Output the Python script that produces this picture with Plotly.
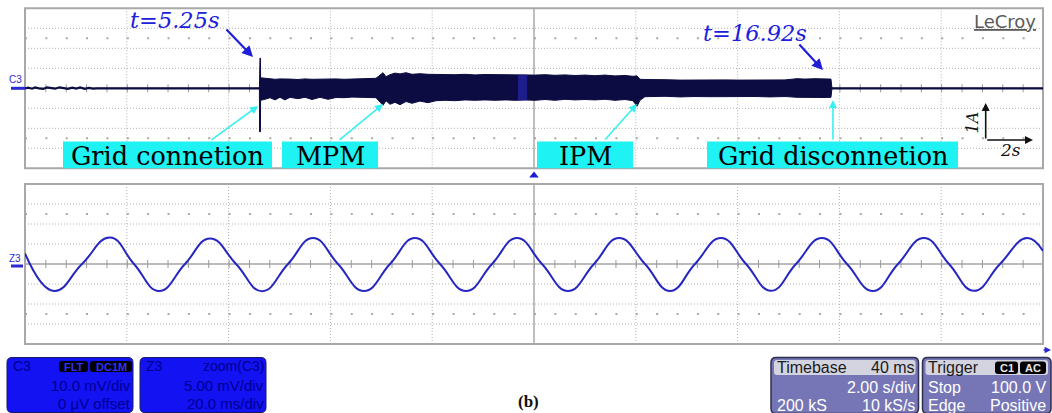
import plotly.graph_objects as go

W, H = 1052, 413

# ---------------- data ----------------
# Upper channel C3: grid current, time in s, amplitude in screen divisions
t_connect = 5.25
t_mpm = 7.76
t_ipm = 12.94
t_disconnect = 16.92
top_range = [0.455, 21.226]

baseline_t = [0.455, 0.52, 0.60, 0.66, 0.74, 0.83, 0.90, 0.98, 1.07, 1.16, 1.24, 1.33, 1.42, 1.50,
              1.58, 1.67, 1.76, 1.84, 1.92, 3.00, 5.21, 16.92, 18.00, 21.226]
baseline_v = [0.00, 0.03, -0.02, 0.04, 0.00, -0.03, 0.04, 0.01, -0.02, 0.05, 0.00, -0.03, 0.03,
              -0.01, 0.04, -0.03, 0.02, -0.02, 0.00, 0.00, 0.00, 0.00, 0.00, 0.00]

band_t = [5.238, 5.241, 5.250, 5.259, 5.262, 5.291, 5.352, 5.454, 5.556, 5.658, 5.760, 5.862, 6.025,
          6.168, 6.311, 6.474, 6.637, 6.801, 6.964, 7.127, 7.290, 7.454, 7.617, 7.760, 7.821, 7.902,
          8.004, 8.107, 8.229, 8.351, 8.515, 8.678, 8.841, 9.025, 9.229, 9.433, 9.637, 9.841, 10.045,
          10.249, 10.453, 10.657, 10.861, 11.065, 11.269, 11.473, 11.677, 11.881, 12.085, 12.289,
          12.493, 12.697, 12.860, 12.942, 13.003, 13.105, 13.310, 13.514, 13.820, 14.126, 14.432,
          14.738, 15.044, 15.350, 15.656, 15.962, 16.207, 16.370, 16.574, 16.778, 16.900, 16.920]
band_hi = [0.00, 1.50, 1.52, 1.50, 0.52, 0.52, 0.50, 0.47, 0.45, 0.47, 0.45, 0.46, 0.44,
           0.47, 0.45, 0.46, 0.44, 0.47, 0.45, 0.47, 0.46, 0.48, 0.50, 0.78, 0.58, 0.68,
           0.76, 0.72, 0.78, 0.70, 0.73, 0.70, 0.69, 0.71, 0.68, 0.70, 0.67, 0.69, 0.68,
           0.70, 0.67, 0.68, 0.66, 0.68, 0.65, 0.67, 0.64, 0.66, 0.63, 0.66,
           0.62, 0.64, 0.60, 0.62, 0.45, 0.44, 0.42, 0.43, 0.41, 0.42, 0.40,
           0.42, 0.41, 0.42, 0.40, 0.42, 0.48, 0.46, 0.48, 0.47, 0.46, 0.00]
band_lo = [0.00, -2.17, -2.18, -2.17, -0.60, -0.60, -0.55, -0.47, -0.58, -0.45, -0.58, -0.45, -0.52,
           -0.45, -0.56, -0.45, -0.55, -0.46, -0.47, -0.44, -0.46, -0.45, -0.47, -0.85, -0.62, -0.80,
           -0.70, -0.82, -0.66, -0.75, -0.64, -0.72, -0.62, -0.60, -0.62, -0.58, -0.60, -0.58, -0.60,
           -0.58, -0.60, -0.58, -0.60, -0.56, -0.60, -0.55, -0.58, -0.56, -0.58, -0.55,
           -0.60, -0.56, -0.62, -0.90, -0.60, -0.42, -0.42, -0.40, -0.43, -0.41, -0.42,
           -0.40, -0.42, -0.41, -0.43, -0.41, -0.45, -0.47, -0.45, -0.46, -0.45, 0.00]

strip_t = [10.514, 10.698]
strip_hi = [0.66, 0.66]
strip_lo = [-0.59, -0.59]

# Lower channel Z3: zoomed grid voltage, time in ms, amplitude in divisions
wave_t = [0.0, 5.70, 11.20, 16.70, 21.41, 26.33, 31.43, 36.35, 41.46, 46.56, 51.67, 56.58, 61.49,
          66.60, 71.71, 76.62, 81.53, 86.64, 91.75, 96.66, 101.57, 106.68, 111.79, 116.70, 121.81,
          126.72, 131.63, 136.74, 141.65, 146.56, 151.47, 156.58, 161.49, 166.60, 171.51, 176.62,
          181.53, 186.44, 191.55, 196.85, 200.0]
wave_v = [0.53, -1.35, 0.0, 1.32, 0.0, -1.35, 0.0, 1.28, 0.0, -1.36, 0.0, 1.30, 0.0,
          -1.35, 0.0, 1.30, 0.0, -1.35, 0.0, 1.30, 0.0, -1.35, 0.0, 1.30, 0.0,
          -1.35, 0.0, 1.30, 0.0, -1.34, 0.0, 1.30, 0.0, -1.35, 0.0, 1.30,
          0.0, -1.34, 0.0, 1.30, 0.65]

# ---------------- layout helpers (pixel -> paper) ----------------
def px(x):
    return x / W


def py(y):
    return 1 - y / H


def line_px(x0, y0, x1, y1, color, width, dash="solid", layer="below"):
    return dict(type="line", xref="paper", yref="paper", x0=px(x0), y0=py(y0), x1=px(x1), y1=py(y1),
                line=dict(color=color, width=width, dash=dash), layer=layer)


def rect_px(x0, y0, x1, y1, fill, layer="above"):
    return dict(type="rect", xref="paper", yref="paper", x0=px(x0), y0=py(y0), x1=px(x1), y1=py(y1),
                fillcolor=fill, line=dict(width=0), layer=layer)


def rrect_px(x0, y0, x1, y1, r, fill, edge=None, ew=0):
    pts = [("M", x0 + r, y0), ("L", x1 - r, y0), ("Q", x1, y0, x1, y0 + r), ("L", x1, y1 - r),
           ("Q", x1, y1, x1 - r, y1), ("L", x0 + r, y1), ("Q", x0, y1, x0, y1 - r),
           ("L", x0, y0 + r), ("Q", x0, y0, x0 + r, y0)]
    path = ""
    for p in pts:
        if p[0] == "Q":
            path += f"Q{px(p[1]):.5f},{py(p[2]):.5f} {px(p[3]):.5f},{py(p[4]):.5f} "
        else:
            path += f"{p[0]}{px(p[1]):.5f},{py(p[2]):.5f} "
    path += "Z"
    return dict(type="path", xref="paper", yref="paper", path=path, fillcolor=fill,
                line=dict(color=edge or fill, width=ew), layer="above")


def text_px(x, y, s, size, color, family="Liberation Sans", xa="center", ya="middle", **kw):
    return dict(x=px(x), y=py(y), xref="paper", yref="paper", text=s, showarrow=False,
                xanchor=xa, yanchor=ya, font=dict(size=size, color=color, family=family), **kw)


L, R = 25, 1043
panels = {"top": (8.3, 168.3), "bot": (184.0, 344.0)}

shapes = []
annotations = []

# ---------------- scope graticule ----------------
GRID = "#b2b2b2"
for name, (T, B) in panels.items():
    dw = (R - L) / 10
    dh = (B - T) / 8
    for i in range(1, 10):
        x = L + i * dw
        if i == 5:
            shapes.append(line_px(x, T, x, B, "#a4a4a4", 1.4))
        else:
            shapes.append(line_px(x, T, x, B, GRID, 1, "1px,2px"))
    for j in range(1, 8):
        y = T + j * dh
        if j == 4:
            shapes.append(line_px(L, y, R, y, "#a4a4a4", 1.4))
        else:
            shapes.append(line_px(L, y, R, y, GRID, 1, "1px,2px"))
    # minor dots and centre-axis ticks every 1/5 division
    step = dw / 5
    for yy in (T + 1.5 * dh, T + 6.5 * dh):
        shapes.append(line_px(L, yy, R, yy, "#a8a8a8", 2, f"2px,{step - 2:.2f}px"))
    shapes.append(line_px(L, T + 4 * dh, R, T + 4 * dh, "#9a9a9a", 8, f"1px,{step - 1:.2f}px"))
    shapes.append(dict(type="rect", xref="paper", yref="paper", x0=px(L), x1=px(R), y0=py(B), y1=py(T),
                       line=dict(color="#a8a8a8", width=2), fillcolor="rgba(0,0,0,0)", layer="below"))

# ---------------- traces ----------------
NAVY = "#0c0c42"
fig = go.Figure()
fig.add_trace(go.Scatter(x=baseline_t, y=baseline_v, mode="lines", xaxis="x", yaxis="y",
                         line=dict(color=NAVY, width=2.2), hoverinfo="skip"))
fig.add_trace(go.Scatter(x=band_t + band_t[::-1], y=band_hi + band_lo[::-1], mode="lines",
                         fill="toself", fillcolor=NAVY, xaxis="x", yaxis="y",
                         line=dict(color=NAVY, width=1), hoverinfo="skip"))
fig.add_trace(go.Scatter(x=strip_t + strip_t[::-1], y=strip_hi + strip_lo[::-1], mode="lines",
                         fill="toself", fillcolor="#1d1d8c", xaxis="x", yaxis="y",
                         line=dict(color="#1d1d8c", width=0.5), hoverinfo="skip"))
fig.add_trace(go.Scatter(x=wave_t, y=wave_v, mode="lines", xaxis="x2", yaxis="y2",
                         line=dict(color="#2626c0", width=2, shape="spline", smoothing=1.3),
                         hoverinfo="skip"))

# ---------------- channel markers ----------------
shapes.append(line_px(11, 88.3, 25, 88.3, "#2a2ad0", 3, layer="above"))
annotations.append(text_px(15, 79, "C3", 10, "#2a2ad0"))
shapes.append(line_px(11, 266, 23, 266, "#2a2ad0", 3, layer="above"))
annotations.append(text_px(15, 258, "Z3", 10, "#2a2ad0"))
shapes.append(dict(type="path", xref="paper", yref="paper",
                   path=f"M{px(534):.5f},{py(171.5):.5f} L{px(538.8):.5f},{py(177.5):.5f} "
                        f"L{px(529.2):.5f},{py(177.5):.5f} Z",
                   fillcolor="#1c1cd0", line=dict(width=0), layer="above"))
annotations.append(dict(x=px(1051), y=py(350), xref="paper", yref="paper", text="", showarrow=True,
                        ax=-9, ay=0, arrowhead=2, arrowsize=0.8, arrowwidth=1.6, arrowcolor="#2a2ad0"))

# ---------------- operating-mode labels ----------------
CYAN = "#1ff2f2"
SERIF = "DejaVu Serif"
for (x0, x1, label) in [(63, 272, "Grid connetion"), (282, 378, "MPM"),
                        (537, 633, "IPM"), (707, 958, "Grid disconnetion")]:
    shapes.append(rect_px(x0, 141.5, x1, 168.3, CYAN))
    annotations.append(text_px((x0 + x1) / 2, 155.5, label, 25.5, "#000000", family=SERIF))

# arrows from the labels to the events (cyan) and the time stamps (blue)
def event_arrow(t, dx, dy_head, ax, ay, color, width):
    return dict(x=t, y=0, xref="x", yref="y", text="", showarrow=True, xshift=dx, yshift=dy_head,
                ax=ax, ay=ay, arrowhead=2, arrowsize=1.0, arrowwidth=width, arrowcolor=color,
                standoff=0)

annotations += [
    event_arrow(t_connect, -2, -17.7, -48, 35, "#3cf0f0", 1.6),
    event_arrow(t_mpm, 0, -15.7, -45, 37, "#3cf0f0", 1.6),
    event_arrow(t_ipm, 0, -15.7, -33, 37, "#3cf0f0", 1.6),
    event_arrow(t_disconnect, 1, -11.7, 0, 41, "#3cf0f0", 1.6),
    event_arrow(t_connect, -7, 31.3, -28, -29, "#1f1fd8", 2.2),
    event_arrow(t_disconnect, -9, 18.3, -25, -27, "#1f1fd8", 2.2),
]
BLUE_TXT = "#2020dc"
annotations.append(text_px(175, 20.5, f"<i>t={t_connect}s</i>", 22.5, BLUE_TXT, family=SERIF))
annotations.append(text_px(755, 33, f"<i>t={t_disconnect}s</i>", 22.5, BLUE_TXT, family=SERIF))

# brand + scale bar
annotations.append(text_px(1038, 21.5, "<u>LeCroy</u>", 18, "#5a5a5a", family="DejaVu Sans", xa="right"))
annotations.append(dict(x=px(985.7), y=py(103), xref="paper", yref="paper", text="", showarrow=True,
                        ax=0, ay=37, arrowhead=2, arrowsize=1, arrowwidth=1.6, arrowcolor="#111111",
                        standoff=0))
annotations.append(dict(x=px(1033), y=py(140), xref="paper", yref="paper", text="", showarrow=True,
                        ax=-47.3, ay=0, arrowhead=2, arrowsize=1, arrowwidth=1.6, arrowcolor="#111111",
                        standoff=0))
annotations.append(text_px(972, 122.5, "<i>1A</i>", 16, "#111111", family=SERIF, textangle=-90))
annotations.append(text_px(1010, 150, "<i>2s</i>", 17, "#111111", family=SERIF))

# ---------------- channel / timebase info boxes ----------------
BOXBLUE = "#1212f2"
DTXT = "#000090"
shapes.append(rrect_px(7, 357.5, 133, 412.5, 5, BOXBLUE, "#1a1a60", 1))
shapes.append(rrect_px(140, 357.5, 266, 412.5, 5, BOXBLUE, "#1a1a60", 1))
shapes.append(rrect_px(59, 361, 88, 372, 3, "#000000"))
shapes.append(rrect_px(90, 361, 132, 372, 3, "#000000"))
annotations += [
    text_px(11, 366, "C3", 14, DTXT, xa="left"),
    text_px(73.5, 366.5, "<b>FLT</b>", 11, "#3030ff"),
    text_px(111, 366.5, "<b>DC1M</b>", 11, "#3030ff"),
    text_px(133, 385, "10.0 mV/div", 15, DTXT, xa="right"),
    text_px(133, 403, "0 μV offset", 15, DTXT, xa="right"),
    text_px(144, 366, "Z3", 14, DTXT, xa="left"),
    text_px(266, 366, "zoom(C3)", 14, DTXT, xa="right"),
    text_px(266, 385, "5.00 mV/div", 15, DTXT, xa="right"),
    text_px(266, 403, "20.0 ms/div", 15, DTXT, xa="right"),
]

LAV = "#7676b6"
HDR = "#d4d4e0"
shapes.append(rrect_px(771, 357.5, 918.5, 413.5, 5, LAV, "#2e2e4e", 1.5))
shapes.append(rrect_px(922.5, 357.5, 1051, 413.5, 5, LAV, "#2e2e4e", 1.5))
shapes.append(rrect_px(774, 360, 915.5, 375, 3, HDR))
shapes.append(rrect_px(925.5, 360, 1048, 375, 3, HDR))
shapes.append(rrect_px(995, 361.5, 1018, 374, 3, "#000000"))
shapes.append(rrect_px(1020, 361.5, 1046, 374, 3, "#000000"))
annotations += [
    text_px(775, 367.5, "Timebase", 16, "#1a1a1a", xa="left"),
    text_px(917, 367.5, "40 ms", 16, "#1a1a1a", xa="right"),
    text_px(917, 387, "2.00 s/div", 16, "#ffffff", xa="right"),
    text_px(775, 405.5, "200 kS", 16, "#ffffff", xa="left"),
    text_px(917, 405.5, "10 kS/s", 16, "#ffffff", xa="right"),
    text_px(926, 367.5, "Trigger", 16, "#1a1a1a", xa="left"),
    text_px(1006.5, 368, "<b>C1</b>", 11, "#e8e8e8"),
    text_px(1033, 368, "<b>AC</b>", 11, "#e8e8e8"),
    text_px(926, 387, "Stop", 16, "#ffffff", xa="left"),
    text_px(1048, 387, "100.0 V", 16, "#ffffff", xa="right"),
    text_px(926, 405.5, "Edge", 16, "#ffffff", xa="left"),
    text_px(1048, 405.5, "Positive", 16, "#ffffff", xa="right"),
]

# figure caption at the bottom edge
annotations.append(text_px(528, 413, "<b>(b)</b>", 17, "#111111", family="Liberation Serif", ya="bottom"))

# ---------------- axes ----------------
xdom = [px(L), px(R)]
hidden = dict(showgrid=False, zeroline=False, showticklabels=False, ticks="", showline=False,
              fixedrange=True)
fig.update_layout(
    width=W, height=H, margin=dict(l=0, r=0, t=0, b=0),
    paper_bgcolor="#ffffff", plot_bgcolor="#ffffff", showlegend=False,
    xaxis=dict(domain=xdom, range=top_range, anchor="y", **hidden),
    yaxis=dict(domain=[py(panels["top"][1]), py(panels["top"][0])], range=[-4, 4], anchor="x", **hidden),
    xaxis2=dict(domain=xdom, range=[0, 200], anchor="y2", **hidden),
    yaxis2=dict(domain=[py(panels["bot"][1]), py(panels["bot"][0])], range=[-4, 4], anchor="x2", **hidden),
    shapes=shapes, annotations=annotations,
)

fig.write_html("out.html")
